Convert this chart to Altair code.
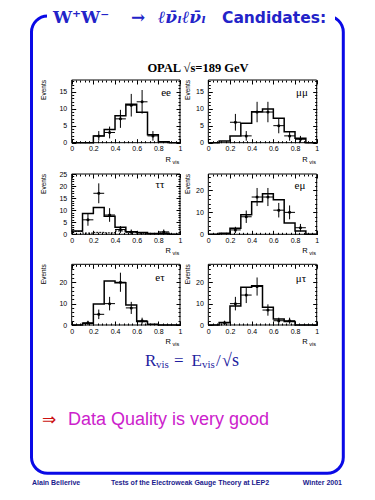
import altair as alt
import numpy as np
import pandas as pd

W, H = 359, 484  # drawing canvas (page 375x500 minus the 8px margins)

# ---------------- data ----------------
BIN_EDGES = [0.0, 0.1, 0.2, 0.3, 0.4, 0.5, 0.6, 0.7, 0.8, 0.9, 1.0]
X_TICKS = [0.0, 0.2, 0.4, 0.6, 0.8, 1.0]
X_MINOR = [round(0.04 * i, 2) for i in range(26)]

EE_MC = [0, 0, 2.0, 3.9, 7.9, 11.3, 8.9, 2.3, 0.3, 0]
EE_X = [0.25, 0.35, 0.45, 0.55, 0.65, 0.75]
EE_N = [2, 3, 7, 11, 12, 2]

MM_MC = [0, 0.5, 2.0, 5.7, 9.1, 9.9, 7.2, 3.2, 1.3, 0]
MM_X = [0.25, 0.35, 0.45, 0.55, 0.65, 0.75, 0.85]
MM_N = [6, 2, 9, 9, 5, 2, 1]

TT_MC = [1.4, 8.6, 11.1, 7.5, 2.9, 1.1, 0.7, 0.3, 0.3, 0]
TT_BG = [1.2, 0.5, 0.8, 0.6, 1.4, 0.9, 0.4, 0.3, 0.6, 0]
TT_X = [0.15, 0.25, 0.35, 0.45, 0.55, 0.85]
TT_N = [6, 17, 8, 2, 1, 1]

EM_MC = [0, 0.5, 2.8, 8.9, 14.9, 18.5, 15.8, 5.1, 1.5, 0]
EM_X = [0.25, 0.35, 0.45, 0.55, 0.65, 0.75, 0.85]
EM_N = [2, 8, 17, 17, 11, 10, 3]

ET_MC = [0, 0.8, 9.8, 20.6, 19.8, 9.4, 1.6, 0.3, 0, 0]
ET_X = [0.15, 0.25, 0.35, 0.45, 0.55, 0.65]
ET_N = [1, 5, 10, 20, 8, 2]

MT_MC = [0, 1.2, 8.9, 17.7, 18.4, 8.3, 2.8, 1.6, 0, 0]
MT_X = [0.15, 0.25, 0.35, 0.45, 0.55, 0.65, 0.75]
MT_N = [1, 10, 14, 18, 7, 2, 2]

Y_MAJ_A = [0, 5, 10, 15]
Y_MIN_A = list(range(0, 19))
Y_MAJ_T = [0, 5, 10, 15, 20, 25]
Y_MIN_T = list(range(0, 26))
Y_MAJ_B = [0, 10, 20]
Y_MIN_B = list(range(0, 29, 2))

# ---------------- layout (canvas pixels) ----------------
LEFT = (63.7, 172.0)
RIGHT = (200.3, 308.7)
ROWS = [(72.0, 134.7), (166.0, 226.3), (256.3, 317.0)]

TITLE_BLUE = "#2323c8"
FRAME_BLUE = "#0a0ae6"
FORM_BLUE = "#1f1fa0"
FOOT_BLUE = "#1a1a8c"

dummy = pd.DataFrame({"r": [0.0], "n": [0.0]})
one = pd.DataFrame({"a": [0]})


def ax(orient, offset, values, size, labels=False, fmt=None, pad=2):
    kw = dict(orient=orient, offset=offset, values=values, tickSize=size,
              domain=False, grid=False, title=None, tickColor="black",
              tickWidth=1, labels=labels)
    if labels:
        kw.update(labelFontSize=7, labelFont="Liberation Sans", labelColor="black",
                  labelPadding=pad, labelFlush=False, labelOverlap=False, format=fmt)
    return alt.Axis(**kw)


def txt(s, x, y, size, color="black", font="Liberation Sans", weight="normal",
        align="left", baseline="middle", angle=0, style="normal"):
    return alt.Chart(one).mark_text(
        text=s, fontSize=size, color=color, font=font, fontWeight=weight,
        align=align, baseline=baseline, angle=angle, fontStyle=style
    ).encode(x=alt.value(x), y=alt.value(y))


def panel(mc, px, pn, ymax, ymaj, ymin, xr, yr, label, lpos, bg=None):
    x0, x1 = xr
    y0, y1 = yr
    xsc = alt.Scale(domain=[0, 1], range=[x0, x1], nice=False, zero=False)
    ysc = alt.Scale(domain=[0, ymax], range=[y1, y0], nice=False, zero=False)
    hist = pd.DataFrame({"r": BIN_EDGES, "n": list(mc) + [mc[-1]]})
    pts = pd.DataFrame({"r": px, "n": pn})
    pts["lo"] = pts["n"] - np.sqrt(pts["n"])
    pts["hi"] = pts["n"] + np.sqrt(pts["n"])
    pts["rl"] = pts["r"] - 0.05
    pts["rh"] = pts["r"] + 0.05

    out = []
    out.append(alt.Chart(one).mark_rect(fillOpacity=0, stroke="black", strokeWidth=1).encode(
        x=alt.value(x0), x2=alt.value(x1), y=alt.value(y0), y2=alt.value(y1)))
    out.append(alt.Chart(hist).mark_line(interpolate="step-after", color="black",
                                         strokeWidth=1.5).encode(
        x=alt.X("r:Q", scale=xsc, axis=ax("bottom", y1 - 4 - H, X_TICKS, 4, True, ".1~f", 2)),
        y=alt.Y("n:Q", scale=ysc, axis=ax("left", -(x0 + 4), ymaj, 4, True, "d", 5))))
    if bg is not None:
        bgd = pd.DataFrame({"r": BIN_EDGES, "n": list(bg) + [bg[-1]]})
        out.append(alt.Chart(bgd).mark_line(interpolate="step-after", color="black",
                                            strokeWidth=1, strokeDash=[2, 1]).encode(
            x=alt.X("r:Q", scale=xsc, axis=None),
            y=alt.Y("n:Q", scale=ysc, axis=None)))
    out.append(alt.Chart(pts).mark_rule(color="black", strokeWidth=1).encode(
        x=alt.X("r:Q", scale=xsc, axis=None),
        y=alt.Y("lo:Q", scale=ysc, axis=None), y2="hi:Q"))
    out.append(alt.Chart(pts).mark_rule(color="black", strokeWidth=1).encode(
        x=alt.X("rl:Q", scale=xsc, axis=None), x2="rh:Q",
        y=alt.Y("n:Q", scale=ysc, axis=None)))
    out.append(alt.Chart(pts).mark_point(filled=True, color="black", size=9, opacity=1).encode(
        x=alt.X("r:Q", scale=xsc, axis=None),
        y=alt.Y("n:Q", scale=ysc, axis=None)))
    # mirrored major ticks (top / right)
    out.append(alt.Chart(dummy).mark_point(opacity=0).encode(
        x=alt.X("r:Q", scale=xsc, axis=ax("top", -(y0 + 4), X_TICKS, 4)),
        y=alt.Y("n:Q", scale=ysc, axis=ax("right", x1 - 4 - W, ymaj, 4))))
    # minor ticks bottom / left
    out.append(alt.Chart(dummy).mark_point(opacity=0).encode(
        x=alt.X("r:Q", scale=xsc, axis=ax("bottom", y1 - 2 - H, X_MINOR, 2)),
        y=alt.Y("n:Q", scale=ysc, axis=ax("left", -(x0 + 2), ymin, 2))))
    # minor ticks top / right
    out.append(alt.Chart(dummy).mark_point(opacity=0).encode(
        x=alt.X("r:Q", scale=xsc, axis=ax("top", -(y0 + 2), X_MINOR, 2)),
        y=alt.Y("n:Q", scale=ysc, axis=ax("right", x1 - 2 - W, ymin, 2))))
    # texts
    out.append(txt(label, lpos[0], lpos[1], 11, font="Liberation Serif", align="center"))
    ex = 36 if x0 < 100 else 179.5
    out.append(txt("Events", ex, y0, 6.5, align="right", angle=270))
    out.append(txt("R", x1 - 9, y1 + 17, 7.5, align="right"))
    out.append(txt("vis", x1 - 7.5, y1 + 19, 5.5, align="left"))
    return out


layers = []
# outer rounded frame + title
layers.append(alt.Chart(one).mark_rect(fillOpacity=0, stroke=FRAME_BLUE, strokeWidth=3,
                                       cornerRadius=16).encode(
    x=alt.value(23.5), x2=alt.value(335.3), y=alt.value(8), y2=alt.value(465.3)))
layers.append(alt.Chart(one).mark_rect(color="white").encode(
    x=alt.value(39), x2=alt.value(327), y=alt.value(0), y2=alt.value(17)))
TB = 14.5
layers.append(txt("W⁺W⁻", 45, TB, 17, TITLE_BLUE, "DejaVu Serif", "bold", baseline="alphabetic"))
layers.append(txt("→", 123, TB, 17, TITLE_BLUE, "DejaVu Serif", "bold", baseline="alphabetic"))
layers.append(txt("ℓν̄ₗℓν̄ₗ", 150, TB, 17, TITLE_BLUE, "DejaVu Serif", "bold",
                  baseline="alphabetic", style="italic"))
layers.append(txt("Candidates:", 214, TB, 15.5, TITLE_BLUE, "DejaVu Sans", "bold",
                  baseline="alphabetic"))
layers.append(txt("OPAL √s=189 GeV", 190, 60, 12.5, "black", "Liberation Serif", "bold",
                  align="center"))

layers += panel(EE_MC, EE_X, EE_N, 18.4, Y_MAJ_A, Y_MIN_A, LEFT, ROWS[0], "ee", (158, 85))
layers += panel(MM_MC, MM_X, MM_N, 18.4, Y_MAJ_A, Y_MIN_A, RIGHT, ROWS[0], "μμ", (294, 85))
layers += panel(TT_MC, TT_X, TT_N, 25, Y_MAJ_T, Y_MIN_T, LEFT, ROWS[1], "ττ", (152, 177), TT_BG)
layers += panel(EM_MC, EM_X, EM_N, 27.5, Y_MAJ_B, Y_MIN_B, RIGHT, ROWS[1], "eμ", (292, 178))
layers += panel(ET_MC, ET_X, ET_N, 28.4, Y_MAJ_B, Y_MIN_B, LEFT, ROWS[2], "eτ", (152, 270))
layers += panel(MT_MC, MT_X, MT_N, 28.4, Y_MAJ_B, Y_MIN_B, RIGHT, ROWS[2], "μτ", (293, 271))

# formula R_vis = E_vis / sqrt(s)
layers.append(txt("R", 137, 353, 17, FORM_BLUE, "Liberation Serif"))
layers.append(txt("vis", 148, 357, 11, FORM_BLUE, "Liberation Serif"))
layers.append(txt("=", 166, 353, 17, FORM_BLUE, "Liberation Serif"))
layers.append(txt("E", 183.5, 353, 17, FORM_BLUE, "Liberation Serif"))
layers.append(txt("vis", 194, 357, 11, FORM_BLUE, "Liberation Serif"))
layers.append(txt("/", 208, 353, 17, FORM_BLUE, "Liberation Serif"))
layers.append(txt("√s", 214, 353, 18, FORM_BLUE, "Liberation Serif"))

layers.append(txt("⇒", 34, 412, 17, "#cc1111", "DejaVu Sans"))
layers.append(txt("Data Quality is very good", 60, 412, 18, "#cc22cc", "Liberation Sans"))

layers.append(txt("Alain Bellerive", 24, 475, 7, FOOT_BLUE, "Liberation Sans", "bold"))
layers.append(txt("Tests of the Electroweak Gauge Theory at LEP2", 182, 475, 7, FOOT_BLUE,
                  "Liberation Sans", "bold", align="center"))
layers.append(txt("Winter 2001", 334, 475, 7, FOOT_BLUE, "Liberation Sans", "bold", align="right"))

chart = alt.layer(*layers).resolve_scale(x="independent", y="independent").properties(
    width=W, height=H, autosize=alt.AutoSizeParams(type="none"), padding=0
).configure_view(strokeWidth=0)

chart.save("out.html", embed_options={"renderer": "svg", "actions": False})
